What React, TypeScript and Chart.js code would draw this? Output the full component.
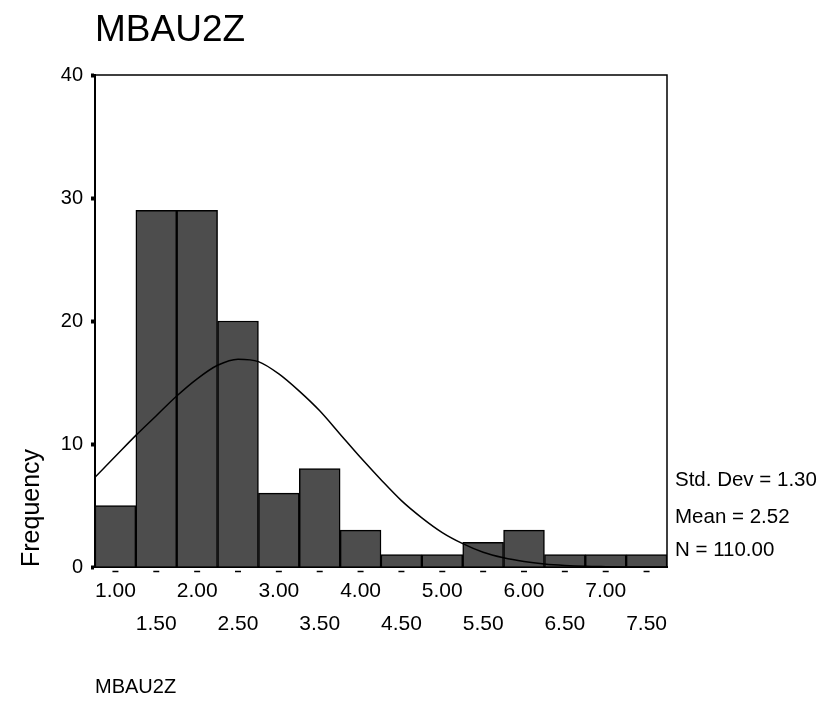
import { useEffect, useRef } from "react";
import { Chart, registerables } from "chart.js";

Chart.register(...registerables);

// Histogram bins (centres) and their counts
const binCenters = [1.0, 1.5, 2.0, 2.5, 3.0, 3.5, 4.0, 4.5, 5.0, 5.5, 6.0, 6.5, 7.0, 7.5];
const frequencies = [5, 29, 29, 20, 6, 8, 3, 1, 1, 2, 3, 1, 1, 1];
const tickLabels = [
  "1.00", "1.50", "2.00", "2.50", "3.00", "3.50", "4.00",
  "4.50", "5.00", "5.50", "6.00", "6.50", "7.00", "7.50",
];

// Fitted normal curve, sampled along the x range
const curveX = [
  0.75, 1.0, 1.25, 1.5, 1.75, 2.0, 2.25, 2.5, 2.75, 3.0, 3.25, 3.5, 3.75, 4.0, 4.25,
  4.5, 4.75, 5.0, 5.25, 5.5, 5.75, 6.0, 6.25, 6.5, 6.75, 7.0, 7.25, 7.5, 7.75,
];
const curveY = [
  7.3, 9.0, 10.7, 12.3, 13.9, 15.3, 16.4, 16.9, 16.7, 15.7, 14.3, 12.7, 10.8, 8.9, 7.1,
  5.4, 4.0, 2.8, 1.9, 1.2, 0.75, 0.45, 0.25, 0.13, 0.06, 0.03, 0.01, 0.0, 0.0,
];

const yTicks = [0, 10, 20, 30, 40];

const variableName = "MBAU2Z";
const stdDev = "1.30";
const mean = "2.52";
const count = "110.00";

const FONT = "Arial, 'Liberation Sans', sans-serif";

export default function App() {
  const canvasRef = useRef<HTMLCanvasElement | null>(null);

  useEffect(() => {
    const canvas = canvasRef.current;
    if (!canvas) return;

    // Thin frame on the top and right sides of the plot area
    const framePlugin = {
      id: "frame",
      afterDraw(chart: any) {
        const { ctx, chartArea } = chart;
        ctx.save();
        ctx.strokeStyle = "#000";
        ctx.lineWidth = 1.5;
        ctx.beginPath();
        ctx.moveTo(chartArea.left, chartArea.top);
        ctx.lineTo(chartArea.right, chartArea.top);
        ctx.lineTo(chartArea.right, chartArea.bottom);
        ctx.stroke();
        ctx.restore();
      },
    };

    // Small horizontal dashes under each bin centre
    const dashPlugin = {
      id: "binDashes",
      afterDraw(chart: any) {
        const { ctx, chartArea } = chart;
        const xs = chart.scales.x;
        ctx.save();
        ctx.strokeStyle = "#000";
        ctx.lineWidth = 1.5;
        binCenters.forEach((v) => {
          const px = xs.getPixelForValue(v);
          ctx.beginPath();
          ctx.moveTo(px - 3, chartArea.bottom + 4.5);
          ctx.lineTo(px + 3, chartArea.bottom + 4.5);
          ctx.stroke();
        });
        ctx.restore();
      },
    };

    // Summary statistics to the right of the plot
    const statsPlugin = {
      id: "stats",
      afterDraw(chart: any) {
        const { ctx, chartArea } = chart;
        ctx.save();
        ctx.fillStyle = "#000";
        ctx.font = `20.5px ${FONT}`;
        ctx.textAlign = "left";
        ctx.textBaseline = "middle";
        const x = chartArea.right + 8;
        ctx.fillText(`Std. Dev = ${stdDev}`, x, chartArea.bottom - 87);
        ctx.fillText(`Mean = ${mean}`, x, chartArea.bottom - 50);
        ctx.fillText(`N = ${count}`, x, chartArea.bottom - 17);
        ctx.restore();
      },
    };

    const chart = new Chart(canvas, {
      type: "bar",
      data: {
        datasets: [
          {
            type: "line",
            data: curveX.map((x, i) => ({ x, y: curveY[i] })),
            borderColor: "#000",
            borderWidth: 1.5,
            pointRadius: 0,
            fill: false,
            cubicInterpolationMode: "monotone",
            order: 0,
          } as any,
          {
            type: "bar",
            data: binCenters.map((x, i) => ({ x, y: frequencies[i] })),
            backgroundColor: "#4d4d4d",
            borderColor: "#000",
            borderWidth: 1.5,
            barPercentage: 1,
            categoryPercentage: 1,
            order: 1,
          } as any,
        ],
      },
      options: {
        animation: false,
        responsive: false,
        devicePixelRatio: 1,
        layout: { padding: { left: 0, right: 155, top: 0, bottom: 0 } },
        plugins: {
          legend: { display: false },
          tooltip: { enabled: false },
          title: {
            display: true,
            text: variableName,
            align: "start",
            fullSize: false,
            color: "#000",
            font: { family: FONT, size: 37, weight: "normal", lineHeight: 1.2 },
            padding: { top: 9, bottom: 21.6 },
          },
        },
        scales: {
          x: {
            type: "linear",
            min: 0.75,
            max: 7.75,
            offset: false,
            afterBuildTicks: (scale: any) => {
              scale.ticks = binCenters.map((v) => ({ value: v }));
            },
            afterFit: (scale: any) => {
              scale.height = 137;
            },
            grid: { display: false, offset: false, drawTicks: true, tickLength: 4 },
            border: { display: true, color: "#000", width: 2 },
            ticks: {
              autoSkip: false,
              maxRotation: 0,
              minRotation: 0,
              color: "#000",
              padding: 4,
              font: { family: FONT, size: 21, lineHeight: 1.57 },
              callback: (_v: any, i: number) =>
                i % 2 === 0 ? [tickLabels[i], ""] : ["", tickLabels[i]],
            },
            title: {
              display: true,
              text: variableName,
              align: "start",
              color: "#000",
              font: { family: FONT, size: 20, lineHeight: 1.2 },
              padding: { top: 0, bottom: 5 },
            },
          },
          y: {
            min: 0,
            max: 40,
            afterBuildTicks: (scale: any) => {
              scale.ticks = yTicks.map((v) => ({ value: v }));
            },
            afterFit: (scale: any) => {
              scale.width = 95;
            },
            grid: {
              display: true,
              drawOnChartArea: false,
              drawTicks: true,
              tickLength: 4,
              tickWidth: 4,
              tickColor: "#000",
            },
            border: { display: true, color: "#000", width: 2 },
            ticks: {
              color: "#000",
              padding: 8,
              font: { family: FONT, size: 20 },
            },
            title: {
              display: true,
              text: "Frequency",
              align: "start",
              color: "#000",
              font: { family: FONT, size: 25, lineHeight: 1.2 },
              padding: { top: 17, bottom: 0 },
            },
          },
        },
      },
      plugins: [framePlugin, dashPlugin, statsPlugin],
    });

    return () => {
      chart.destroy();
    };
  }, []);

  return (
    <div style={{ position: "absolute", left: 0, top: 0, width: 822, height: 704, background: "#fff" }}>
      <canvas ref={canvasRef} width={822} height={704} />
    </div>
  );
}
